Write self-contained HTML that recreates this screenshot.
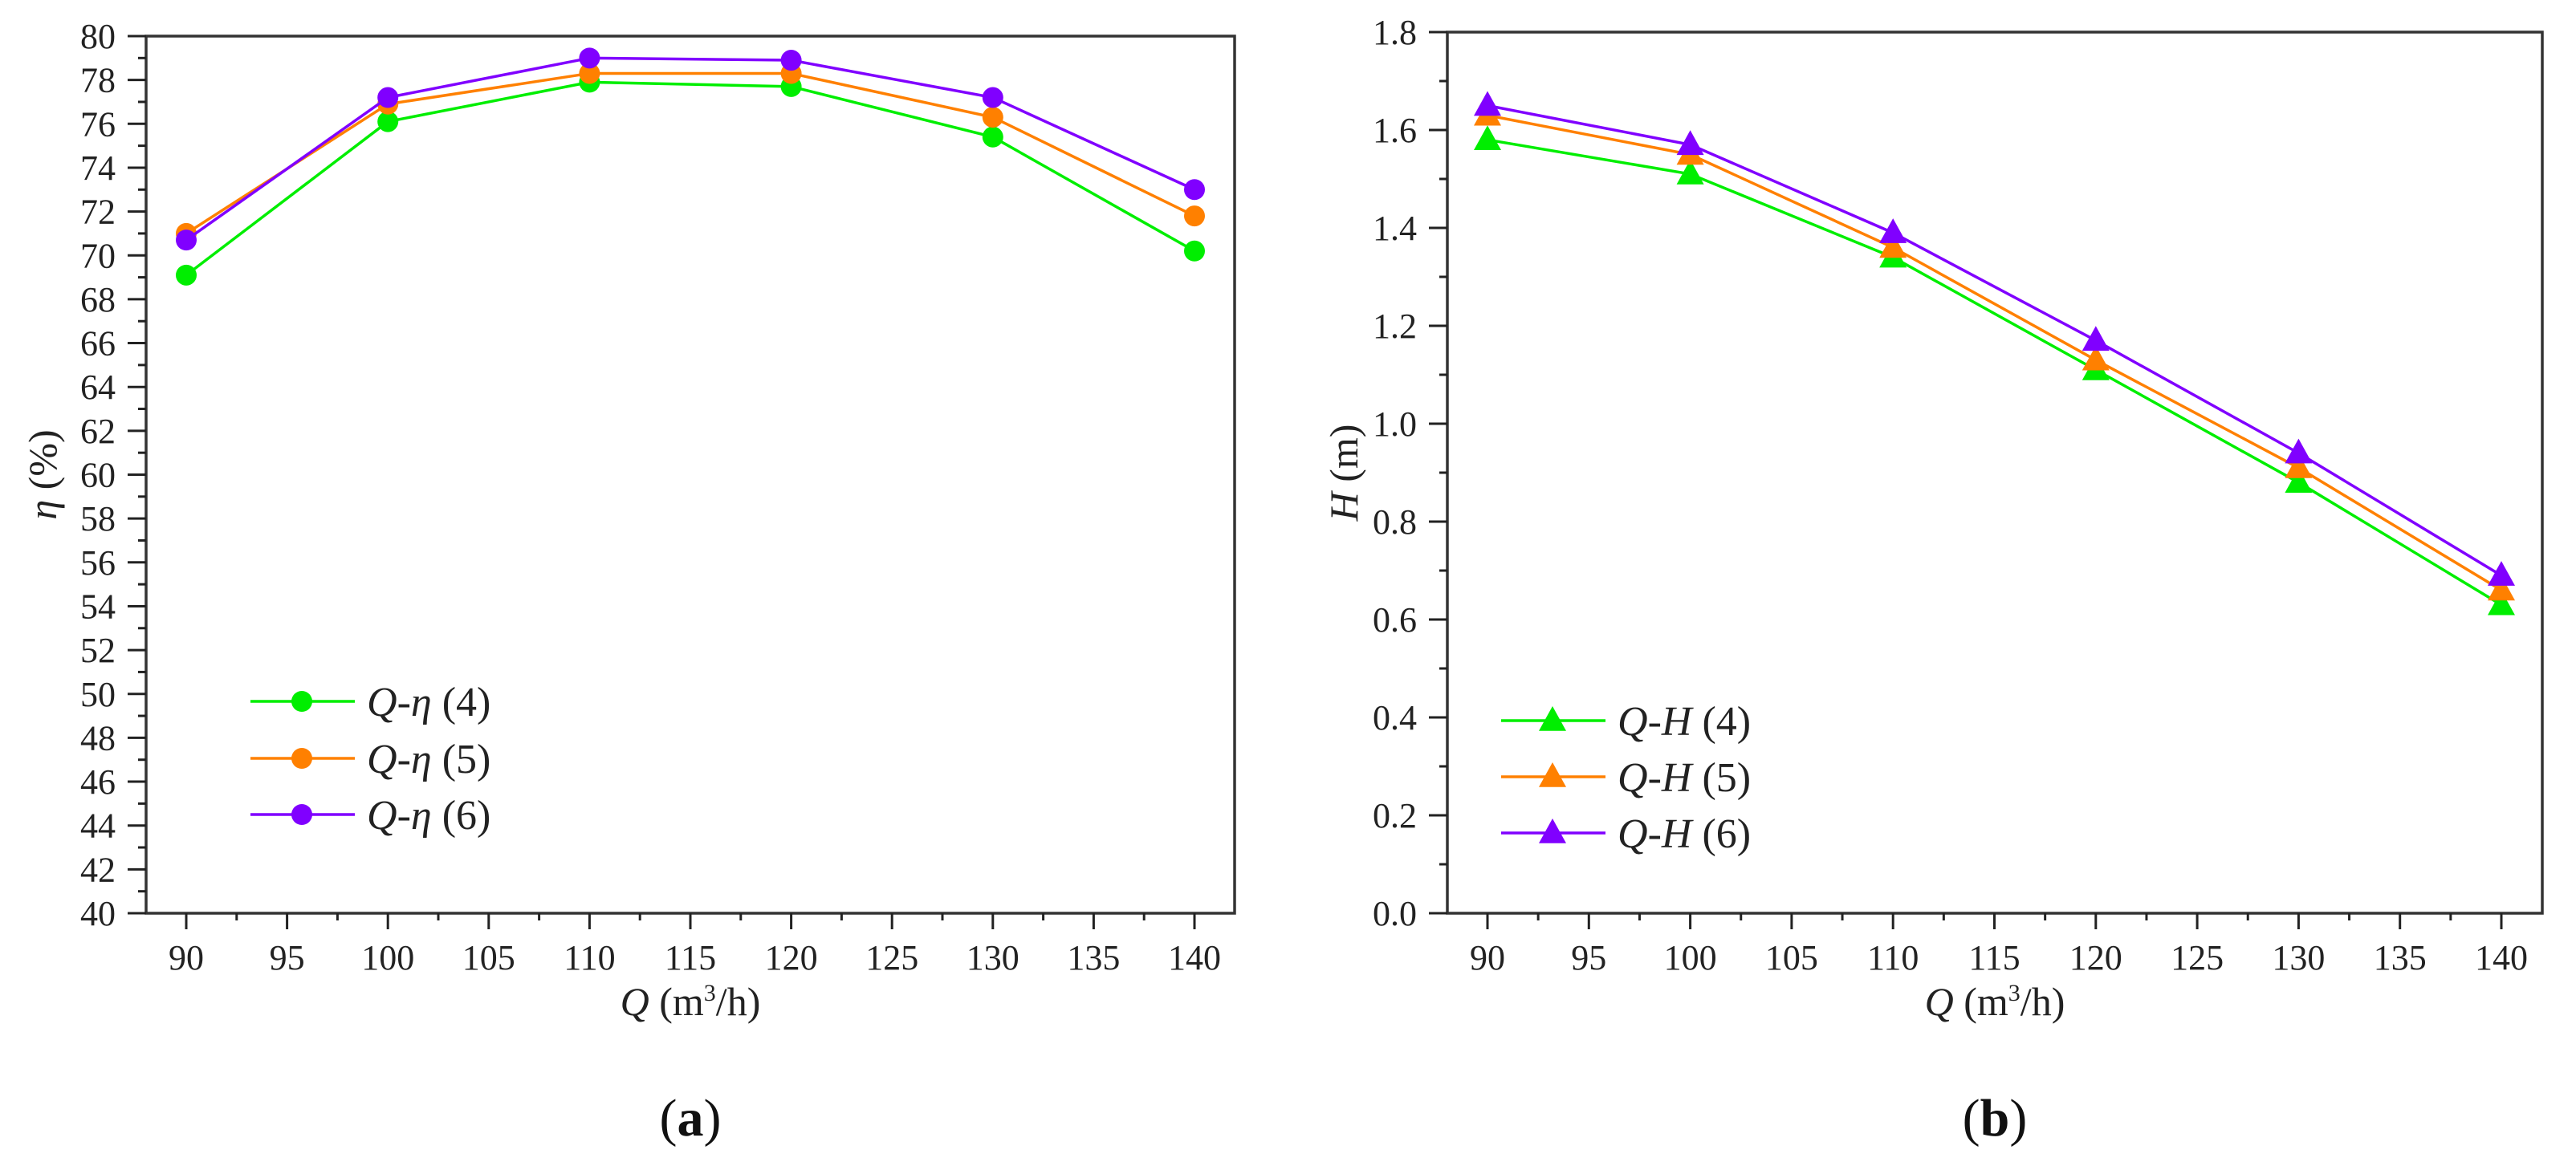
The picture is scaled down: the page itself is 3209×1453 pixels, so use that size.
<!DOCTYPE html>
<html><head><meta charset="utf-8">
<style>
html,body{margin:0;padding:0;background:#fff;}
svg{display:block;font-family:"Liberation Serif",serif;}
</style></head>
<body>
<svg id="fig" width="3209" height="1453" viewBox="0 0 3209 1453" xmlns="http://www.w3.org/2000/svg"></svg>
<script>
const flowQ = [90, 100, 110, 120, 130, 140];
const xTicks = [90, 95, 100, 105, 110, 115, 120, 125, 130, 135, 140];
const etaTicks = [40,42,44,46,48,50,52,54,56,58,60,62,64,66,68,70,72,74,76,78,80];
const headTicks = [0.0,0.2,0.4,0.6,0.8,1.0,1.2,1.4,1.6,1.8];
const headTickLabels = ["0.0","0.2","0.4","0.6","0.8","1.0","1.2","1.4","1.6","1.8"];
const eta4 = [69.1, 76.1, 77.9, 77.7, 75.4, 70.2];
const eta5 = [71.0, 76.9, 78.3, 78.3, 76.3, 71.8];
const eta6 = [70.7, 77.2, 79.0, 78.9, 77.2, 73.0];
const head4 = [1.58, 1.51, 1.34, 1.11, 0.88, 0.63];
const head5 = [1.63, 1.55, 1.36, 1.13, 0.91, 0.66];
const head6 = [1.65, 1.57, 1.39, 1.17, 0.94, 0.69];
const seriesLabels = ["(4)", "(5)", "(6)"];
const colors = ["#00ee00", "#ff8000", "#8000ff"];

const NS = "http://www.w3.org/2000/svg";
const svg = document.getElementById('fig');
function mk(tag, attrs, parent){
  const e = document.createElementNS(NS, tag);
  for (const k in attrs) e.setAttribute(k, attrs[k]);
  (parent||svg).appendChild(e);
  return e;
}

function panel(cfg){
  const g = mk('g', {});
  
  
  const xs = v => cfg.x90 + (v - 90) * cfg.xu;
  const ys = v => cfg.bottom - (v - cfg.ymin) / (cfg.ymax - cfg.ymin) * (cfg.bottom - cfg.top);
  const fr = mk('rect', {x: cfg.left, y: cfg.top, width: cfg.right - cfg.left, height: cfg.bottom - cfg.top, fill: 'none', stroke: '#333', 'stroke-width': 3.5}, g);
  
  
  cfg.yTicks.forEach((t, i) => {
    const y = ys(t);
    mk('line', {x1: cfg.left - 23, x2: cfg.left, y1: y, y2: y, stroke: '#222', 'stroke-width': 3}, g);
    if (i < cfg.yTicks.length - 1) {
      const ym = ys((t + cfg.yTicks[i+1]) / 2);
      mk('line', {x1: cfg.left - 10, x2: cfg.left, y1: ym, y2: ym, stroke: '#222', 'stroke-width': 3}, g);
    }
    const tx = mk('text', {x: cfg.left - 38, y: y + 15, 'font-size': 44, 'text-anchor': 'end', fill: '#222'}, g);
    tx.textContent = cfg.yLabels[i];
    
    
  });
  xTicks.forEach((t, i) => {
    const x = xs(t);
    mk('line', {x1: x, x2: x, y1: cfg.bottom, y2: cfg.bottom + 20, stroke: '#222', 'stroke-width': 3}, g);
    if (i < xTicks.length - 1) {
      const xm = xs(t + 2.5);
      mk('line', {x1: xm, x2: xm, y1: cfg.bottom, y2: cfg.bottom + 9, stroke: '#222', 'stroke-width': 3}, g);
    }
    const tx = mk('text', {x: x, y: cfg.bottom + 70, 'font-size': 44, 'text-anchor': 'middle', fill: '#222'}, g);
    tx.textContent = String(t);
    
    
  });
  const xt = mk('text', {x: (cfg.left + cfg.right) / 2, y: cfg.bottom + 127, 'font-size': 50, 'text-anchor': 'middle', fill: '#222'}, g);
  xt.innerHTML = '<tspan font-style="italic">Q</tspan> (m<tspan dy="-18" font-size="30">3</tspan><tspan dy="18">/h)</tspan>';
  
  
  const cy = (cfg.top + cfg.bottom) / 2;
  const yt = mk('text', {x: 0, y: 0, 'font-size': 50, 'text-anchor': 'middle', fill: '#222', transform: `translate(${cfg.left - 112},${cy}) rotate(-90)`}, g);
  yt.innerHTML = cfg.yTitle;
  
  
  cfg.series.forEach((vals, si) => {
    const pts = flowQ.map((q, j) => xs(q) + ',' + ys(vals[j])).join(' ');
    const pl = mk('polyline', {points: pts, fill: 'none', stroke: colors[si], 'stroke-width': 3.5}, g);
    
    
    flowQ.forEach((q, j) => {
      const m = marker(g, cfg.shape, xs(q), ys(vals[j]), colors[si]);
      
      
    });
  });
  cfg.series.forEach((vals, si) => {
    const ly = cfg.legY[si];
    const lg = mk('g', {}, g);
    
    
    mk('line', {x1: cfg.legX, x2: cfg.legX + 130, y1: ly, y2: ly, stroke: colors[si], 'stroke-width': 3.5}, lg);
    marker(lg, cfg.shape, cfg.legX + 64, ly, colors[si]);
    const t = mk('text', {x: cfg.legX + 145, y: ly + 18, 'font-size': 52, fill: '#222'}, lg);
    t.innerHTML = cfg.legText + ' ' + seriesLabels[si];
  });
  const pl = mk('text', {x: (cfg.left + cfg.right) / 2, y: 1415, 'font-size': 66, 'text-anchor': 'middle', fill: '#111'}, g);
  pl.innerHTML = '(<tspan font-weight="bold">' + cfg.letter + '</tspan>)';
  
  
}
function marker(g, shape, x, y, c){
  if (shape === 'circle') return mk('circle', {cx: x, cy: y, r: 13, fill: c}, g);
  const s = 16;
  return mk('polygon', {points: `${x},${y - s - 2} ${x + s + 1},${y + s * 0.8} ${x - s - 1},${y + s * 0.8}`, fill: c}, g);
}

panel({name: 'efficiency-chart', left: 182, right: 1538, top: 45, bottom: 1138, x90: 232, xu: 25.12,
  ymin: 40, ymax: 80, yTicks: etaTicks, yLabels: etaTicks.map(String),
  yTitle: '<tspan font-style="italic">η</tspan> (%)', series: [eta4, eta5, eta6], shape: 'circle',
  legX: 312, legY: [874, 945, 1015], legText: '<tspan font-style="italic">Q</tspan>-<tspan font-style="italic">η</tspan>', letter: 'a'});
panel({name: 'head-chart', left: 1803, right: 3167, top: 40, bottom: 1138, x90: 1853, xu: 25.26,
  ymin: 0, ymax: 1.8, yTicks: headTicks, yLabels: headTickLabels,
  yTitle: '<tspan font-style="italic">H</tspan> (m)', series: [head4, head5, head6], shape: 'tri',
  legX: 1870, legY: [898, 968, 1038], legText: '<tspan font-style="italic">Q</tspan>-<tspan font-style="italic">H</tspan>', letter: 'b'});
</script>
</body></html>
